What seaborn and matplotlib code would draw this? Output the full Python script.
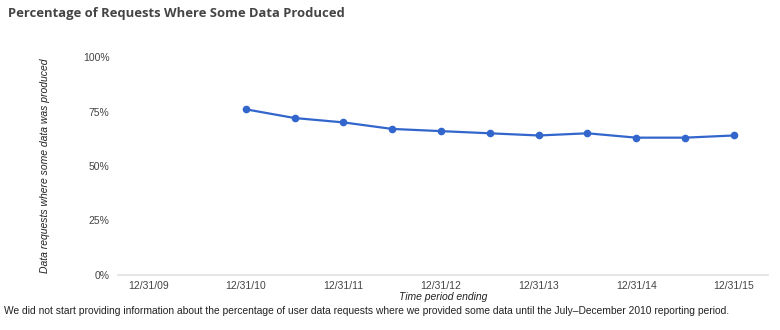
import matplotlib
matplotlib.use("Agg")
import matplotlib.pyplot as plt
import seaborn as sns
import pandas as pd

# Data
periods = ["12/31/10", "6/30/11", "12/31/11", "6/30/12", "12/31/12", "6/30/13",
           "12/31/13", "6/30/14", "12/31/14", "6/30/15", "12/31/15"]
period_pos = [2010.0, 2010.5, 2011.0, 2011.5, 2012.0, 2012.5,
              2013.0, 2013.5, 2014.0, 2014.5, 2015.0]
pct_some_data = [76, 72, 70, 67, 66, 65, 64, 65, 63, 63, 64]
x_tick_pos = [2009, 2010, 2011, 2012, 2013, 2014, 2015]
x_tick_labels = ["12/31/09", "12/31/10", "12/31/11", "12/31/12", "12/31/13", "12/31/14", "12/31/15"]
y_ticks = [0, 25, 50, 75, 100]
y_tick_labels = ["0%", "25%", "50%", "75%", "100%"]

df = pd.DataFrame({"pos": period_pos, "pct": pct_some_data, "period": periods})

sns.set_style("white")
plt.rcParams["font.family"] = ["Liberation Sans", "DejaVu Sans"]

fig = plt.figure(figsize=(7.8, 3.3), dpi=100)
ax = fig.add_axes([118/780, 1 - 275/330, (768 - 118)/780, (275 - 57)/330])

sns.lineplot(data=df, x="pos", y="pct", ax=ax, color="#3366cc", linewidth=1.6,
             marker="o", markersize=5.5, markeredgewidth=0, clip_on=False)

ax.set_xlim(2008.69, 2015.35)
ax.set_ylim(0, 100)
ax.set_xticks(x_tick_pos)
ax.set_xticklabels(x_tick_labels)
ax.set_yticks(y_ticks)
ax.set_yticklabels(y_tick_labels)
ax.tick_params(axis="both", length=0, labelsize=7.5, labelcolor="#444444")
ax.tick_params(axis="x", pad=4)
ax.tick_params(axis="y", pad=6)
for s in ["top", "right", "left"]:
    ax.spines[s].set_visible(False)
ax.spines["bottom"].set_color("#e0e0e0")
ax.spines["bottom"].set_linewidth(1.2)
ax.grid(False)

ax.set_xlabel("Time period ending", fontsize=7.5, style="italic", color="#222222", labelpad=1)
ax.set_ylabel("Data requests where some data was produced", fontsize=7.5, style="italic",
              color="#222222", labelpad=0)
ax.yaxis.set_label_coords((50 - 118) / 650, 0.5)

fig.text(8/780, 1 - 13/330, "Percentage of Requests Where Some Data Produced",
         fontsize=9.4, fontweight="bold", color="#444444",
         family=["Open Sans", "DejaVu Sans"], va="center", ha="left")
fig.text(4/780, 1 - 311/330,
         "We did not start providing information about the percentage of user data requests where we provided some data until the July\u2013December 2010 reporting period.",
         fontsize=7.42, color="#222222", va="center", ha="left")

fig.savefig("out.png", dpi=100)
